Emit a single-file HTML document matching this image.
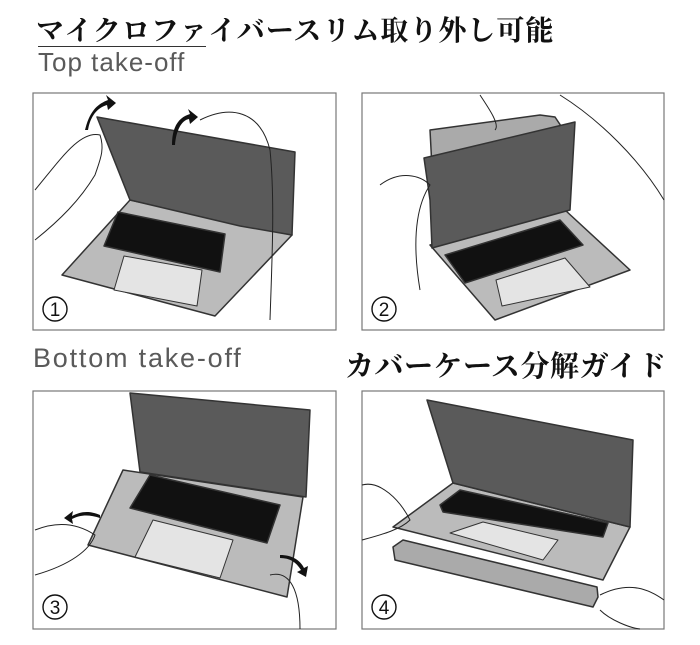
<!DOCTYPE html>
<html><head><meta charset="utf-8"><style>
body{margin:0;background:#fff;width:700px;height:645px;overflow:hidden;position:relative}
.t{position:absolute;font-family:"Liberation Serif","Noto Serif CJK SC",serif;color:#111;font-weight:bold;white-space:nowrap}
.s{position:absolute;font-family:"Liberation Sans",sans-serif;color:#5a5a5a;white-space:nowrap}
svg{position:absolute;left:0;top:0}
</style></head><body>
<div class="t" style="left:36px;top:9px;font-size:28px;letter-spacing:1px">マイクロファイバースリム取り外し可能</div>
<div style="position:absolute;left:38px;top:46px;width:168px;height:1px;background:#333"></div>
<div class="s" style="left:38px;top:47px;font-size:26px;letter-spacing:1px">Top take-off</div>
<div class="s" style="left:33px;top:343px;font-size:27px;letter-spacing:1.8px">Bottom take-off</div>
<div class="t" style="left:345px;top:344px;font-size:29px;letter-spacing:0.5px">カバーケース分解ガイド</div>
<svg width="700" height="645" viewBox="0 0 700 645">
<g fill="none" stroke="#777" stroke-width="1.2">
<rect x="33" y="93" width="303" height="237"/>
<rect x="362" y="93" width="302" height="237"/>
<rect x="33" y="391" width="303" height="238"/>
<rect x="362" y="391" width="302" height="238"/>
</g>
<g stroke="#333" stroke-width="1.5" stroke-linejoin="round">
<polygon points="62,275 130,200 292,235 215,316" fill="#bbb"/>
<polygon points="97,117 295,152 292,235 240,226 130,200" fill="#5a5a5a"/>
<polygon points="118,212 225,234 220,272 104,246" fill="#111"/>
<polygon points="124,256 202,270 197,306 114,290" fill="#e4e4e4" stroke-width="1"/>
<polygon points="430,130 540,115 555,117 567,135 560,200 435,225" fill="#aaa"/>
<polygon points="430,245 565,210 630,270 495,320" fill="#bbb"/>
<polygon points="424,158 575,122 570,210 432,248 430,200" fill="#5a5a5a"/>
<polygon points="445,255 560,220 583,245 465,283" fill="#111"/>
<polygon points="496,280 565,258 590,287 502,306" fill="#e4e4e4" stroke-width="1"/>
<polygon points="123,470 303,497 287,597 88,545" fill="#bbb"/>
<polygon points="130,393 310,410 306,497 140,472" fill="#5a5a5a"/>
<polygon points="150,475 280,505 267,543 130,508" fill="#111"/>
<polygon points="153,520 233,540 220,578 135,557" fill="#e4e4e4" stroke-width="1"/>
<polygon points="403,540 597,587 598,597 593,607 395,560 393,547" fill="#aaa"/>
<polygon points="393,527 453,483 630,527 603,580" fill="#bbb"/>
<polygon points="427,400 633,440 630,527 453,483" fill="#5a5a5a"/>
<polygon points="440,505 460,490 608,523 603,537 443,512" fill="#111"/>
<polygon points="450,533 483,522 558,540 543,560" fill="#e4e4e4" stroke-width="1"/>
</g>
<g fill="none" stroke="#222" stroke-width="1">
<path d="M35,190 C60,160 80,130 100,135 C105,150 100,160 95,175 C80,200 60,220 35,240"/>
<path d="M200,120 C230,105 260,110 270,150 C275,200 272,260 270,320"/>
<path d="M380,185 C400,170 420,175 430,185 C420,200 410,230 420,290"/>
<path d="M480,95 C490,110 500,125 495,130 M560,95 C600,120 640,160 664,200"/>
<path d="M35,530 C60,520 80,525 95,535 C90,550 70,565 35,575"/>
<path d="M270,575 C290,570 300,590 300,629"/>
<path d="M362,485 C380,480 400,500 410,520 C400,530 380,535 362,540"/>
<path d="M600,595 C630,580 650,590 664,600 M600,610 C610,620 630,628 640,629"/>
</g>
<g fill="#111">
<path d="M85,130 C90,110 98,104 108,100 l-2,-5 10,8 -8,7 -1,-5 C96,108 90,118 88,130Z"/>
<path d="M172,145 C172,125 180,117 190,114 l-2,-5 10,8 -8,7 -1,-5 C182,120 176,130 175,145Z"/>
<path d="M100,515 C88,510 80,512 72,516 l1,-5 -9,7 9,6 -1,-5 C80,515 88,514 100,518Z"/>
<path d="M280,555 C292,555 300,560 304,568 l4,-2 -2,11 -9,-5 4,-2 C296,562 290,558 280,558Z"/>
</g>
<g fill="none" stroke="#111" stroke-width="1.4">
<circle cx="55" cy="309" r="12"/><circle cx="384" cy="309" r="12"/>
<circle cx="55" cy="607" r="12"/><circle cx="384" cy="607" r="12"/>
</g>
<g font-family="Liberation Sans, sans-serif" font-size="19" fill="#111" text-anchor="middle">
<text x="55" y="316">1</text><text x="384" y="316">2</text>
<text x="55" y="614">3</text><text x="384" y="614">4</text>
</g>
</svg>
</body></html>
